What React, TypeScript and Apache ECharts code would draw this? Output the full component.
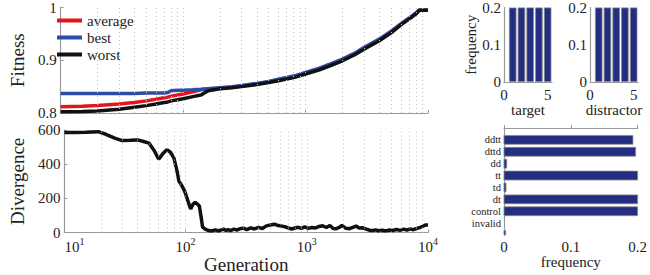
import React, { useEffect, useRef } from "react";
import * as echarts from "echarts";

const SERIF = "Liberation Serif";
const TXT = "#222";
const AX = "#9a9a9a";
const NAVY = "#232e80";

// Fitness panel
const fitGens = [10, 15, 20, 30, 40, 50, 60, 70, 75, 80, 90, 100, 120, 140, 160, 200, 250, 300, 400, 500, 600, 800, 1000, 1300, 1600, 2000, 2500, 3000, 4000, 5000, 6000, 7000, 8000, 8500, 9000, 10000];
const bestFit = [0.837, 0.837, 0.837, 0.837, 0.837, 0.838, 0.838, 0.838, 0.839, 0.842, 0.843, 0.843, 0.844, 0.845, 0.846, 0.848, 0.85, 0.852, 0.856, 0.86, 0.864, 0.87, 0.877, 0.885, 0.893, 0.902, 0.913, 0.924, 0.94, 0.955, 0.969, 0.98, 0.99, 0.995, 0.995, 0.995];
const avgFit = [0.812, 0.813, 0.814, 0.817, 0.82, 0.823, 0.826, 0.829, 0.83, 0.832, 0.834, 0.836, 0.84, 0.844, 0.846, 0.847, 0.849, 0.851, 0.855, 0.859, 0.863, 0.869, 0.876, 0.884, 0.892, 0.901, 0.912, 0.923, 0.939, 0.954, 0.968, 0.979, 0.989, 0.995, 0.995, 0.995];
const worstFit = [0.8025, 0.803, 0.804, 0.807, 0.811, 0.814, 0.817, 0.82, 0.821, 0.823, 0.825, 0.827, 0.831, 0.834, 0.842, 0.846, 0.848, 0.85, 0.854, 0.858, 0.861, 0.867, 0.874, 0.882, 0.89, 0.899, 0.91, 0.921, 0.937, 0.952, 0.967, 0.978, 0.988, 0.995, 0.995, 0.995];

// Divergence panel
const divGens = [10, 12, 15, 19, 22, 26, 30, 35, 40, 45, 50, 55, 60, 65, 70, 75, 80, 85, 88, 93, 98, 104, 110, 115, 120, 126, 130, 135, 138, 145, 155, 165, 175, 185, 195, 205, 215, 225, 235, 250, 265, 280, 300, 320, 345, 370, 400, 430, 460, 500, 540, 580, 620, 660, 700, 750, 800, 850, 900, 960, 1030, 1100, 1180, 1260, 1350, 1450, 1550, 1650, 1750, 1850, 1950, 2100, 2250, 2400, 2550, 2700, 2900, 3100, 3300, 3500, 3700, 3900, 4200, 4500, 4800, 5100, 5500, 5900, 6300, 6700, 7100, 7600, 8100, 8600, 9100, 9600, 10000];
const divVals = [585, 586, 587, 590, 575, 553, 538, 540, 542, 533, 523, 480, 430, 462, 485, 470, 437, 360, 302, 275, 244, 190, 138, 165, 177, 165, 154, 80, 33, 20, 12, 10, 16, 11, 14, 20, 13, 17, 12, 20, 15, 22, 26, 18, 28, 21, 31, 24, 38, 45, 49, 41, 38, 34, 28, 21, 27, 31, 24, 33, 25, 30, 27, 36, 40, 30, 42, 24, 23, 30, 42, 25, 23, 31, 38, 27, 28, 20, 14, 12, 16, 11, 14, 10, 15, 12, 18, 13, 20, 15, 22, 17, 25, 30, 38, 45, 45];

const gridGens = [20, 30, 40, 50, 60, 70, 80, 90, 100, 200, 300, 400, 500, 600, 700, 800, 900, 1000, 2000, 3000, 4000, 5000, 6000, 7000, 8000, 9000];

// Histograms
const binCenters = [1, 2, 3, 4, 5];
const targetFreq = [0.2, 0.2, 0.2, 0.2, 0.2];
const distractorFreq = [0.2, 0.2, 0.2, 0.2, 0.2];

// Horizontal bars (top to bottom)
const catLabels = ["ddtt", "dttd", "dd", "tt", "td", "dt", "control", "invalid"];
const catFreq = [0.193, 0.197, 0.004, 0.2, 0.003, 0.2, 0.2, 0, 0.0025];

const fitTicks = ["0.8", "0.9", "1"];

function baseAxisLine() {
  return { show: true, lineStyle: { color: AX, width: 1.2 } };
}

export default function App() {
  const ref = useRef<HTMLDivElement>(null);
  useEffect(() => {
    if (!ref.current) return;
    const chart = echarts.init(ref.current, null, { renderer: "svg" });
    const lbl = { fontFamily: SERIF, fontSize: 15, color: TXT };
    const nameStyle = { fontFamily: SERIF, fontSize: 19, color: TXT };
    const smallName = { fontFamily: SERIF, fontSize: 15, color: TXT };
    const inTick = { show: true, inside: true, length: 3, lineStyle: { color: AX } };
    const gridLineMark = (series: any) => ({
      ...series,
      markLine: {
        silent: true,
        symbol: "none",
        label: { show: false },
        lineStyle: { type: [1, 3], color: "#c2c2c2", width: 1 },
        data: gridGens.map((g) => ({ xAxis: g })),
      },
    });

    const option: any = {
      animation: false,
      backgroundColor: "#fff",
      textStyle: { fontFamily: SERIF },
      legend: {
        data: ["average", "best", "worst"],
        orient: "vertical",
        left: 57,
        top: 13,
        padding: 0,
        itemWidth: 25,
        itemHeight: 4,
        itemGap: 2,
        icon: "rect",
        textStyle: { fontFamily: SERIF, fontSize: 15, color: TXT, lineHeight: 15 },
      },
      grid: [
        { left: 47, top: 6, width: 381, height: 107 },
        { left: 47, top: 130, width: 381, height: 104 },
        { left: 504, top: 7, width: 48, height: 75 },
        { left: 590, top: 7, width: 48, height: 75 },
        { left: 504, top: 128, width: 137, height: 107 },
      ],
      xAxis: [
        {
          gridIndex: 0, type: "log", logBase: 10, min: 10, max: 10000,
          axisLine: baseAxisLine(), axisTick: inTick, axisLabel: { show: false }, splitLine: { show: false },
        },
        {
          gridIndex: 1, type: "log", logBase: 10, min: 10, max: 10000,
          axisLine: baseAxisLine(), axisTick: inTick, splitLine: { show: false },
          name: "Generation", nameLocation: "middle", nameGap: 19, nameTextStyle: nameStyle,
          axisLabel: {
            margin: 4,
            alignMinLabel: "left",
            formatter: (v: number) => `{b|10}{s|${Math.round(Math.log10(v))}}`,
            rich: {
              b: { fontFamily: SERIF, fontSize: 15, color: TXT, lineHeight: 20 },
              s: { fontFamily: SERIF, fontSize: 10, color: TXT, lineHeight: 10, verticalAlign: "top" },
            },
          },
        },
        {
          gridIndex: 2, type: "value", min: 0, max: 5.5, interval: 5,
          axisLine: baseAxisLine(), axisTick: { show: false }, splitLine: { show: false },
          axisLabel: { ...lbl, margin: 5, formatter: (v: number) => (v === 0 || v === 5 ? String(v) : "") },
          name: "target", nameLocation: "middle", nameGap: 19, nameTextStyle: smallName,
        },
        {
          gridIndex: 3, type: "value", min: 0, max: 5.5, interval: 5,
          axisLine: baseAxisLine(), axisTick: { show: false }, splitLine: { show: false },
          axisLabel: { ...lbl, margin: 5, formatter: (v: number) => (v === 0 || v === 5 ? String(v) : "") },
          name: "distractor", nameLocation: "middle", nameGap: 19, nameTextStyle: smallName,
        },
        {
          gridIndex: 4, type: "value", min: 0, max: 0.2, interval: 0.1,
          axisLine: baseAxisLine(), axisTick: inTick, splitLine: { show: false },
          axisLabel: { ...lbl, margin: 4, formatter: (v: number) => (v === 0 ? "0" : v.toFixed(1)) },
          name: "frequency", nameLocation: "middle", nameGap: 17, nameTextStyle: smallName,
        },
      ],
      yAxis: [
        {
          gridIndex: 0, type: "value", min: 0.8, max: 1, interval: 0.1,
          axisLine: baseAxisLine(), axisTick: inTick, splitLine: { show: false },
          axisLabel: { ...lbl, margin: 4, formatter: (v: number) => fitTicks[Math.round((v - 0.8) * 10)] ?? "" },
          name: "Fitness", nameLocation: "middle", nameGap: 21, nameTextStyle: nameStyle,
        },
        {
          gridIndex: 1, type: "value", min: 0, max: 600, interval: 200,
          axisLine: baseAxisLine(), axisTick: inTick, splitLine: { show: false },
          axisLabel: { ...lbl, margin: 4 },
          name: "Divergence", nameLocation: "middle", nameGap: 22, nameTextStyle: nameStyle,
        },
        {
          gridIndex: 2, type: "value", min: 0, max: 0.2, interval: 0.1,
          axisLine: baseAxisLine(), axisTick: { show: false }, splitLine: { show: false },
          axisLabel: { ...lbl, margin: 3, formatter: (v: number) => (v === 0 ? "0" : v.toFixed(1)) },
          name: "frequency", nameLocation: "middle", nameGap: 24, nameTextStyle: smallName,
        },
        {
          gridIndex: 3, type: "value", min: 0, max: 0.2, interval: 0.1,
          axisLine: baseAxisLine(), axisTick: { show: false }, splitLine: { show: false },
          axisLabel: { ...lbl, margin: 3, formatter: (v: number) => (v === 0 ? "0" : v.toFixed(1)) },
        },
        {
          gridIndex: 4, type: "value", min: 0, max: 9, interval: 1, inverse: true,
          axisLine: baseAxisLine(), axisTick: { show: false }, splitLine: { show: false },
          axisLabel: { fontFamily: SERIF, fontSize: 10.5, lineHeight: 11, color: TXT, margin: 3, formatter: (v: number) => catLabels[Math.round(v) - 1] ?? "" },
        },
      ],
      series: [
        gridLineMark({
          name: "average", type: "line", xAxisIndex: 0, yAxisIndex: 0, showSymbol: false,
          data: fitGens.map((g, i) => [g, avgFit[i]]),
          lineStyle: { color: "#e5141b", width: 3.5 }, itemStyle: { color: "#e5141b" }, z: 2,
        }),
        {
          name: "best", type: "line", xAxisIndex: 0, yAxisIndex: 0, showSymbol: false,
          data: fitGens.map((g, i) => [g, bestFit[i]]),
          lineStyle: { color: "#2d4ca6", width: 3.5 }, itemStyle: { color: "#2d4ca6" }, z: 3,
        },
        {
          name: "worst", type: "line", xAxisIndex: 0, yAxisIndex: 0, showSymbol: false,
          data: fitGens.map((g, i) => [g, worstFit[i]]),
          lineStyle: { color: "#111", width: 3.5 }, itemStyle: { color: "#111" }, z: 4,
        },
        gridLineMark({
          name: "divergence", type: "line", xAxisIndex: 1, yAxisIndex: 1, showSymbol: false,
          data: divGens.map((g, i) => [g, divVals[i]]),
          lineStyle: { color: "#111", width: 3.5 }, itemStyle: { color: "#111" },
        }),
        {
          name: "target", type: "bar", xAxisIndex: 2, yAxisIndex: 2, barWidth: 7.5,
          data: binCenters.map((c, i) => [c, targetFreq[i]]),
          itemStyle: { color: NAVY, borderColor: "#8a8a8a", borderWidth: 0.8 },
        },
        {
          name: "distractor", type: "bar", xAxisIndex: 3, yAxisIndex: 3, barWidth: 7.5,
          data: binCenters.map((c, i) => [c, distractorFreq[i]]),
          itemStyle: { color: NAVY, borderColor: "#8a8a8a", borderWidth: 0.8 },
        },
        {
          name: "condition", type: "custom", xAxisIndex: 4, yAxisIndex: 4,
          data: catFreq.map((f, i) => [f, i + 1]),
          encode: { x: 0, y: 1 },
          renderItem: (params: any, api: any) => {
            const val = api.value(0);
            const pos = api.value(1);
            const s = api.coord([0, pos]);
            const e = api.coord([val, pos]);
            const h = Math.abs(api.size([0, 1])[1]) * 0.75;
            const cs = params.coordSys;
            const r = echarts.graphic.clipRectByRect(
              { x: s[0], y: s[1] - h / 2, width: e[0] - s[0], height: h },
              { x: cs.x, y: cs.y, width: cs.width, height: cs.height }
            );
            if (!r || r.width <= 0) return null;
            return { type: "rect", shape: r, style: { fill: NAVY, stroke: "#8a8a8a", lineWidth: 0.8 } };
          },
        },
      ],
    };
    chart.setOption(option);
    return () => chart.dispose();
  }, []);
  return <div ref={ref} style={{ position: "absolute", left: 0, top: 0, width: 650, height: 275, background: "#fff" }} />;
}
